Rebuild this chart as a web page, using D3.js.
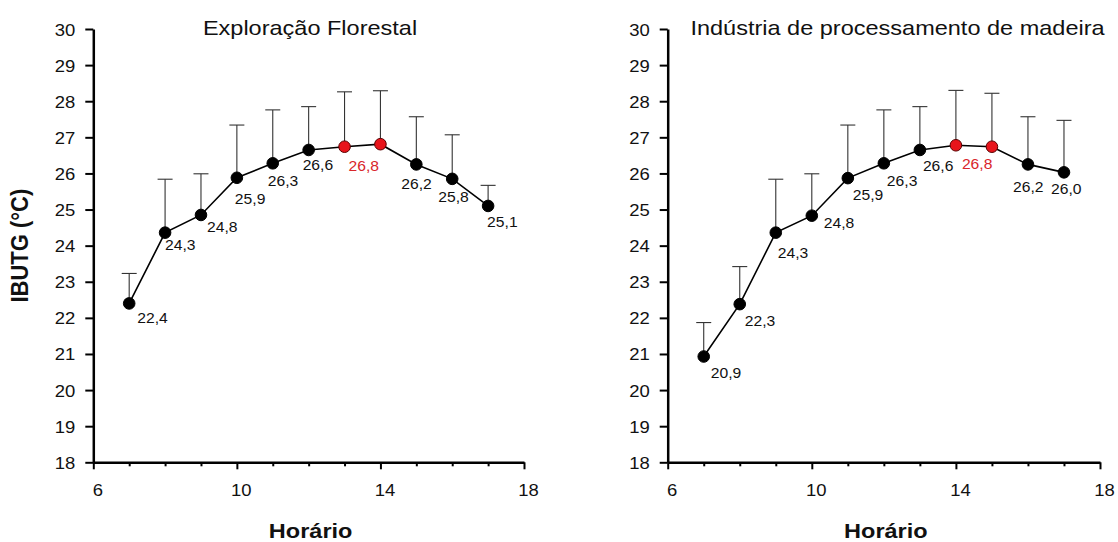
<!DOCTYPE html>
<html>
<head>
<meta charset="utf-8">
<script src="https://cdn.jsdelivr.net/npm/d3@7"></script>
<style>
  html, body { margin: 0; padding: 0; background: #fff; }
  svg { display: block; }
  text { font-family: "Liberation Sans", Arial, sans-serif; }
</style>
</head>
<body>
<svg id="chart" width="1118" height="542"></svg>
<script>
// ---------- DATA ----------
const hours = [7, 8, 9, 10, 11, 12, 13, 14, 15, 16, 17];
const xTicksMajor = [6, 10, 14, 18];
const xTicksMinor = [7, 8, 9, 11, 12, 13, 15, 16, 17];
const yTicks = [18, 19, 20, 21, 22, 23, 24, 25, 26, 27, 28, 29, 30];

const florestalMean  = [22.40, 24.36, 24.85, 25.88, 26.28, 26.65, 26.74, 26.81, 26.25, 25.85, 25.10];
const florestalUpper = [23.23, 25.84, 25.99, 27.34, 27.76, 27.85, 28.26, 28.29, 27.57, 27.07, 25.67];
const florestalLabels = ["22,4", "24,3", "24,8", "25,9", "26,3", "26,6", "26,8", "", "26,2", "25,8", "25,1"];
const florestalRed = [false, false, false, false, false, false, true, true, false, false, false];

const industriaMean  = [20.93, 22.38, 24.36, 24.83, 25.87, 26.28, 26.65, 26.78, 26.74, 26.25, 26.03];
const industriaUpper = [21.87, 23.42, 25.84, 25.99, 27.34, 27.76, 27.85, 28.30, 28.22, 27.57, 27.47];
const industriaLabels = ["20,9", "22,3", "24,3", "24,8", "25,9", "26,3", "26,6", "26,8", "", "26,2", "26,0"];
const industriaRed = [false, false, false, false, false, false, false, true, true, false, false];

const titles = ["Exploração Florestal", "Indústria de processamento de madeira"];
const xTitle = "Horário";
const yTitle = "IBUTG (°C)";

// ---------- LAYOUT (label offsets relative to each point: start-x, centre-y) ----------
const florestalLabelDx = [8, 0, 6, -2, -5, -6, 4, 0, -15, -14, -1];
const florestalLabelDy = [14.5, 12.7, 11.7, 21, 17.7, 15.5, 19, 0, 20, 18.5, 15.7];
const industriaLabelDx = [7, 5, 2, 12, 5, 3, 3, 6, 0, -15, -13];
const industriaLabelDy = [16, 16.5, 20, 7.5, 17, 17.7, 16, 19, 0, 23, 17];

const SX = 1.12; // horizontal text stretch of the original
const svg = d3.select("#chart");

const panels = [
  { x0: 93.3, x1: 524, title: titles[0], titleX: 310, mean: florestalMean, upper: florestalUpper,
    labels: florestalLabels, red: florestalRed, ldx: florestalLabelDx, ldy: florestalLabelDy, yTitle: true },
  { x0: 667.7, x1: 1100, title: titles[1], titleX: 897.5, mean: industriaMean, upper: industriaUpper,
    labels: industriaLabels, red: industriaRed, ldx: industriaLabelDx, ldy: industriaLabelDy, yTitle: false }
];
const yTop = 29, yBot = 462.3;

function stretchedText(g, x, y, str, anchor) {
  return g.append("text")
    .attr("transform", `translate(${x},${y}) scale(${SX},1)`)
    .attr("text-anchor", anchor || "start")
    .text(str);
}

panels.forEach(p => {
  const x = d3.scaleLinear().domain([6, 18]).range([p.x0, p.x1]);
  const y = d3.scaleLinear().domain([18, 30]).range([yBot, yTop]);
  const g = svg.append("g");

  // Y axis
  const ya = g.append("g").attr("transform", `translate(${p.x0},0)`)
    .call(d3.axisLeft(y).tickValues(yTicks).tickSize(8).tickSizeOuter(0).tickFormat(d3.format("d")));
  ya.select(".domain").attr("stroke", "#000").attr("stroke-width", 2.5);
  ya.selectAll(".tick line").attr("stroke", "#000").attr("stroke-width", 2);
  ya.selectAll(".tick text")
    .attr("x", null).attr("dy", null)
    .attr("transform", "translate(-18,6) scale(" + SX + ",1)")
    .attr("font-size", 16.5).attr("fill", "#111")
    .attr("font-family", '"Liberation Sans", Arial, sans-serif');

  // X axis (minor ticks)
  const xm = g.append("g").attr("transform", `translate(0,${yBot})`)
    .call(d3.axisBottom(x).tickValues(xTicksMinor).tickSize(4).tickSizeOuter(0).tickFormat(""));
  xm.select(".domain").remove();
  xm.selectAll(".tick line").attr("stroke", "#000").attr("stroke-width", 2);

  // X axis (major ticks)
  const xa = g.append("g").attr("transform", `translate(0,${yBot})`)
    .call(d3.axisBottom(x).tickValues(xTicksMajor).tickSize(7).tickSizeOuter(0).tickFormat(d3.format("d")));
  xa.select(".domain").attr("stroke", "#000").attr("stroke-width", 2.5);
  xa.selectAll(".tick line").attr("stroke", "#000").attr("stroke-width", 2);
  xa.selectAll(".tick text")
    .attr("y", null).attr("dy", null)
    .attr("transform", "translate(4,34) scale(" + SX + ",1)")
    .attr("font-size", 16.5).attr("fill", "#111")
    .attr("font-family", '"Liberation Sans", Arial, sans-serif');

  // Error bars (upper only)
  const eb = g.append("g").attr("stroke", "#333").attr("stroke-width", 1.1).attr("fill", "none");
  hours.forEach((h, i) => {
    eb.append("line").attr("x1", x(h)).attr("x2", x(h)).attr("y1", y(p.mean[i])).attr("y2", y(p.upper[i]));
    eb.append("line").attr("x1", x(h) - 7.5).attr("x2", x(h) + 7.5).attr("y1", y(p.upper[i])).attr("y2", y(p.upper[i]));
  });

  // Line
  const line = d3.line().x((d, i) => x(hours[i])).y(d => y(d));
  g.append("path").datum(p.mean).attr("d", line)
    .attr("fill", "none").attr("stroke", "#000").attr("stroke-width", 1.6);

  // Points
  g.selectAll("circle.pt").data(p.mean).enter().append("circle")
    .attr("cx", (d, i) => x(hours[i])).attr("cy", d => y(d)).attr("r", 5.8)
    .attr("fill", (d, i) => p.red[i] ? "#e8141b" : "#000")
    .attr("stroke", (d, i) => p.red[i] ? "#5a0000" : "#000").attr("stroke-width", 1);

  // Value labels
  hours.forEach((h, i) => {
    if (!p.labels[i]) return;
    stretchedText(g, x(h) + p.ldx[i], y(p.mean[i]) + p.ldy[i] + 5, p.labels[i], "start")
      .attr("font-size", 14).attr("fill", p.red[i] ? "#d9262b" : "#111");
  });

  // Title
  stretchedText(g, p.titleX, 35, p.title, "middle").attr("font-size", 21).attr("fill", "#111");

  // X title
  stretchedText(g, (p.x0 + p.x1) / 2 + 2, 538, xTitle, "middle")
    .attr("font-size", 21).attr("font-weight", "bold").attr("fill", "#111");

  if (p.yTitle) {
    g.append("text")
      .attr("transform", `translate(28,${(yTop + yBot) / 2}) rotate(-90) scale(1,${SX})`)
      .attr("text-anchor", "middle")
      .attr("font-size", 22).attr("font-weight", "bold").attr("fill", "#111")
      .text(yTitle);
  }
});
</script>
</body>
</html>
